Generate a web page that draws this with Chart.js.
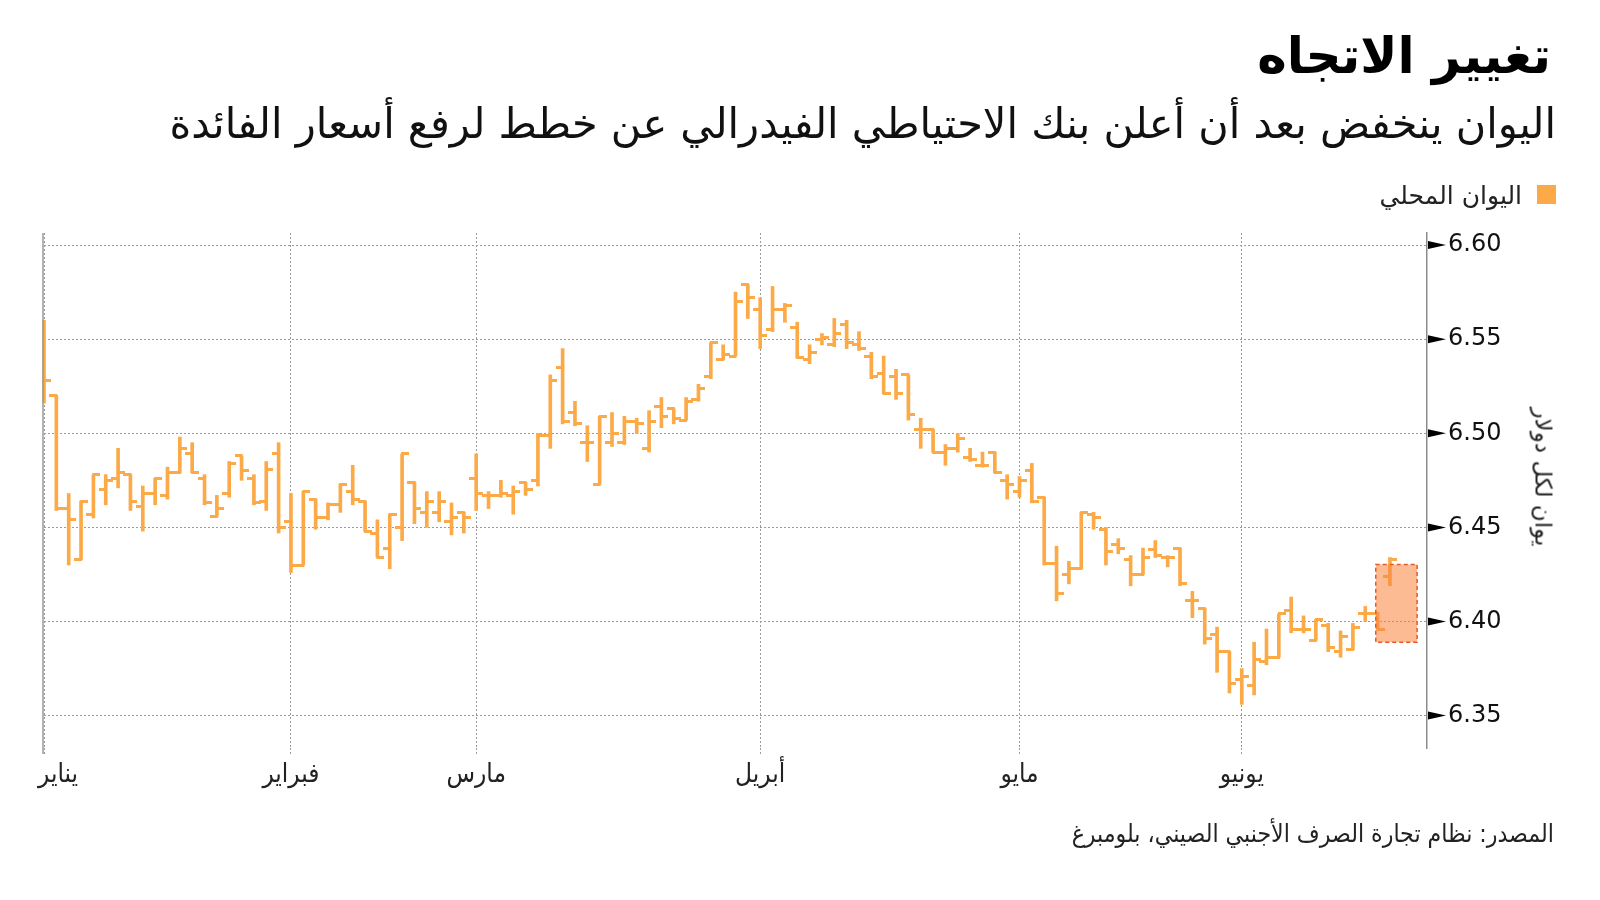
<!DOCTYPE html>
<html lang="ar">
<head>
<meta charset="utf-8">
<title>تغيير الاتجاه</title>
<script src="https://cdn.jsdelivr.net/npm/chart.js@4.4.1/dist/chart.umd.min.js"></script>
<style>
  body { margin: 0; background: #fff; }
  #wrap { position: relative; width: 1600px; height: 900px; overflow: hidden; font-family: "DejaVu Sans", sans-serif; color: #111; }
  #chart { position: absolute; left: 0; top: 0; }
  .txt { position: absolute; direction: rtl; white-space: nowrap; line-height: 1; }
  #title { right: 49px; top: 31px; font-size: 50px; font-weight: bold; color: #000; }
  #subtitle { right: 44px; top: 103px; font-size: 41.5px; color: #111; }
  #legend { right: 78px; top: 183px; font-size: 25px; color: #222; }
  #swatch { position: absolute; left: 1537px; top: 185px; width: 19px; height: 19px; background: #fbaa47; }
  #ytitle { left: 1543px; top: 477px; font-size: 23px; color: #222; transform: translate(-50%, -50%) rotate(90deg); }
  #source { right: 46px; top: 822px; font-size: 24.6px; color: #222; font-family: "DejaVu Sans Condensed", "DejaVu Sans", sans-serif; }
</style>
</head>
<body>
<div id="wrap">
  <canvas id="chart" width="1600" height="900"></canvas>
  <div id="title" class="txt">تغيير الاتجاه</div>
  <div id="subtitle" class="txt">اليوان ينخفض بعد أن أعلن بنك الاحتياطي الفيدرالي عن خطط لرفع أسعار الفائدة</div>
  <div id="swatch"></div>
  <div id="legend" class="txt">اليوان المحلي</div>
  <div id="ytitle" class="txt">يوان لكل دولار</div>
  <div id="source" class="txt">المصدر: نظام تجارة الصرف الأجنبي الصيني، بلومبرغ</div>
</div>
<script>
// Onshore yuan per dollar, daily OHLC, trading days Jan 4 - Jun 18
const opens = [
  6.535, 6.520, 6.460, 6.433, 6.457, 6.470, 6.476, 6.478, 6.461, 6.468,
  6.467, 6.479, 6.489, 6.476, 6.456, 6.468, 6.488, 6.476, 6.464, 6.489,
  6.453, 6.430, 6.465, 6.455, 6.462, 6.469, 6.464, 6.447, 6.439, 6.450,
  6.474, 6.458, 6.458, 6.453, 6.458, 6.476, 6.467, 6.467, 6.467, 6.474,
  6.475, 6.499, 6.535, 6.511, 6.495, 6.473, 6.495, 6.495, 6.506, 6.492,
  6.514, 6.513, 6.507, 6.518, 6.530, 6.539, 6.541, 6.579, 6.566, 6.555,
  6.566, 6.556, 6.539, 6.550, 6.547, 6.558, 6.547, 6.541, 6.532, 6.530,
  6.531, 6.502, 6.502, 6.490, 6.492, 6.487, 6.483, 6.490, 6.475, 6.469,
  6.480, 6.466, 6.431, 6.425, 6.428, 6.457, 6.449, 6.441, 6.433, 6.425,
  6.438, 6.434, 6.439, 6.411, 6.407, 6.393, 6.384, 6.369, 6.366, 6.379,
  6.381, 6.406, 6.396, 6.390, 6.398, 6.384, 6.385, 6.404, 6.404, 6.424
];
const highs = [
  6.560, 6.520, 6.468, 6.464, 6.478, 6.478, 6.492, 6.478, 6.472, 6.476,
  6.482, 6.498, 6.495, 6.478, 6.467, 6.485, 6.488, 6.478, 6.485, 6.495,
  6.468, 6.469, 6.465, 6.463, 6.473, 6.483, 6.464, 6.454, 6.457, 6.489,
  6.474, 6.469, 6.469, 6.463, 6.458, 6.489, 6.469, 6.475, 6.472, 6.474,
  6.500, 6.531, 6.545, 6.517, 6.504, 6.509, 6.511, 6.509, 6.508, 6.512,
  6.519, 6.513, 6.519, 6.526, 6.548, 6.547, 6.575, 6.579, 6.572, 6.578,
  6.569, 6.559, 6.547, 6.553, 6.561, 6.560, 6.554, 6.543, 6.541, 6.534,
  6.531, 6.508, 6.502, 6.494, 6.500, 6.492, 6.490, 6.490, 6.478, 6.477,
  6.484, 6.466, 6.440, 6.432, 6.458, 6.458, 6.450, 6.444, 6.435, 6.439,
  6.443, 6.435, 6.439, 6.416, 6.407, 6.397, 6.384, 6.375, 6.389, 6.396,
  6.404, 6.413, 6.403, 6.401, 6.399, 6.395, 6.399, 6.408, 6.405, 6.434
];
const lows = [
  6.516, 6.459, 6.430, 6.433, 6.455, 6.462, 6.471, 6.459, 6.448, 6.462,
  6.465, 6.479, 6.479, 6.462, 6.456, 6.466, 6.475, 6.462, 6.459, 6.447,
  6.426, 6.430, 6.449, 6.454, 6.458, 6.462, 6.448, 6.434, 6.428, 6.443,
  6.452, 6.450, 6.453, 6.446, 6.447, 6.459, 6.460, 6.466, 6.457, 6.467,
  6.472, 6.492, 6.505, 6.504, 6.485, 6.473, 6.493, 6.494, 6.500, 6.490,
  6.503, 6.505, 6.507, 6.517, 6.529, 6.539, 6.541, 6.561, 6.545, 6.554,
  6.559, 6.540, 6.537, 6.547, 6.546, 6.545, 6.544, 6.529, 6.521, 6.518,
  6.507, 6.492, 6.490, 6.483, 6.490, 6.485, 6.482, 6.479, 6.465, 6.466,
  6.463, 6.430, 6.411, 6.420, 6.428, 6.449, 6.430, 6.436, 6.419, 6.425,
  6.434, 6.429, 6.419, 6.402, 6.388, 6.373, 6.362, 6.356, 6.361, 6.377,
  6.381, 6.394, 6.394, 6.390, 6.384, 6.381, 6.385, 6.400, 6.396, 6.419
];
const closes = [
  6.528, 6.460, 6.454, 6.464, 6.478, 6.475, 6.479, 6.464, 6.468, 6.476,
  6.479, 6.492, 6.479, 6.463, 6.460, 6.484, 6.480, 6.463, 6.481, 6.450,
  6.430, 6.469, 6.455, 6.462, 6.473, 6.465, 6.448, 6.434, 6.457, 6.489,
  6.460, 6.464, 6.464, 6.455, 6.455, 6.468, 6.467, 6.468, 6.469, 6.470,
  6.499, 6.528, 6.506, 6.505, 6.495, 6.509, 6.500, 6.506, 6.505, 6.506,
  6.509, 6.508, 6.517, 6.524, 6.548, 6.542, 6.570, 6.572, 6.552, 6.566,
  6.568, 6.540, 6.543, 6.551, 6.553, 6.548, 6.545, 6.530, 6.521, 6.521,
  6.510, 6.502, 6.490, 6.492, 6.497, 6.486, 6.483, 6.479, 6.473, 6.475,
  6.464, 6.431, 6.415, 6.428, 6.458, 6.455, 6.437, 6.439, 6.425, 6.434,
  6.435, 6.434, 6.420, 6.411, 6.391, 6.384, 6.367, 6.371, 6.380, 6.381,
  6.404, 6.396, 6.396, 6.401, 6.386, 6.392, 6.397, 6.404, 6.396, 6.433
];

// month labels and the trading-day index where each month starts
const months = ['يناير', 'فبراير', 'مارس', 'أبريل', 'مايو', 'يونيو'];
const monthStart = [0, 20, 35, 58, 79, 97];
const yTicks = [6.35, 6.40, 6.45, 6.50, 6.55, 6.60];

// shaded area after the Fed decision (day index / yuan range)
const highlightFrom = 107.85;
const highlightTo = 111.2;
const highlightLow = 6.389;
const highlightHigh = 6.4303;

const barColor = '#fbaa47';

// open tick on the left, close tick on the right, used as point images
function tickImage(side) {
    const c = document.createElement('canvas');
    c.width = 14;
    c.height = 3;
    const g = c.getContext('2d');
    g.fillStyle = barColor;
    if (side === 'open') g.fillRect(0, 0, 8, 3);
    else g.fillRect(6, 0, 8, 3);
    return c;
}

const decorPlugin = {
    id: 'decor',
    afterDatasetsDraw(chart) {
        const {ctx, scales: {x, y}} = chart;
        const x0 = x.getPixelForValue(highlightFrom);
        const x1 = x.getPixelForValue(highlightTo);
        const y0 = y.getPixelForValue(highlightHigh);
        const y1 = y.getPixelForValue(highlightLow);
        ctx.save();
        ctx.fillStyle = 'rgba(251,131,60,0.55)';
        ctx.fillRect(x0, y0, x1 - x0, y1 - y0);
        ctx.setLineDash([4, 3]);
        ctx.strokeStyle = '#e55a25';
        ctx.lineWidth = 1.5;
        ctx.strokeRect(x0, y0, x1 - x0, y1 - y0);
        ctx.restore();
    },
    afterDraw(chart) {
        const {ctx, chartArea, scales: {x, y}} = chart;
        ctx.save();
        // left edge line
        ctx.strokeStyle = '#9a9a9a';
        ctx.lineWidth = 1.5;
        ctx.beginPath();
        ctx.moveTo(chartArea.left - 1, chartArea.top);
        ctx.lineTo(chartArea.left - 1, chartArea.bottom + 6);
        ctx.stroke();

        // arrow markers on the value axis
        ctx.fillStyle = '#000';
        yTicks.forEach(v => {
            const py = y.getPixelForValue(v);
            ctx.beginPath();
            ctx.moveTo(chartArea.right + 1, py - 4);
            ctx.lineTo(chartArea.right + 19, py);
            ctx.lineTo(chartArea.right + 1, py + 4);
            ctx.closePath();
            ctx.fill();
        });

        // month labels
        ctx.fillStyle = '#222';
        ctx.font = '26px "DejaVu Sans Condensed", "DejaVu Sans", sans-serif';
        ctx.textBaseline = 'middle';
        months.forEach((m, i) => {
            const px = x.getPixelForValue(monthStart[i]);
            if (i === 0) {
                ctx.textAlign = 'left';
                ctx.fillText(m, px - 6, 775);
            } else {
                ctx.textAlign = 'center';
                ctx.fillText(m, px, 775);
            }
        });
        ctx.restore();
    }
};

const rangeData = highs.map((h, i) => ({x: i, y: [lows[i], h]}));
const openData = opens.map((v, i) => ({x: i, y: v}));
const closeData = closes.map((v, i) => ({x: i, y: v}));

new Chart(document.getElementById('chart'), {
    type: 'bar',
    data: {
        datasets: [
            {
                label: 'اليوان المحلي',
                data: rangeData,
                backgroundColor: barColor,
                borderWidth: 0,
                barThickness: 3,
                clip: false
            },
            {
                type: 'scatter',
                data: openData,
                pointStyle: tickImage('open'),
                pointRadius: 4,
                showLine: false
            },
            {
                type: 'scatter',
                data: closeData,
                pointStyle: tickImage('close'),
                pointRadius: 4,
                showLine: false,
                clip: false
            }
        ]
    },
    options: {
        responsive: false,
        animation: false,
        devicePixelRatio: 1,
        layout: {padding: {left: 44, top: 233, right: 0, bottom: 0}},
        plugins: {
            legend: {display: false},
            tooltip: {enabled: false}
        },
        scales: {
            x: {
                type: 'linear',
                min: 0,
                max: 112,
                offset: false,
                afterBuildTicks: s => { s.ticks = monthStart.map(v => ({value: v})); },
                afterFit: s => { s.height = 152; },
                ticks: {display: false},
                grid: {offset: false, color: '#9a9a9a', lineWidth: 1, tickLength: 6, tickColor: '#9a9a9a', tickBorderDash: [2, 2]},
                border: {display: false, dash: [2, 2]}
            },
            y: {
                position: 'right',
                min: 6.3328,
                max: 6.6064,
                afterBuildTicks: s => { s.ticks = yTicks.map(v => ({value: v})); },
                afterFit: s => { s.width = 173; },
                ticks: {
                    callback: v => v.toFixed(2),
                    color: '#111',
                    font: {family: 'DejaVu Sans', size: 24},
                    padding: 8
                },
                grid: {color: '#9a9a9a', lineWidth: 1, tickLength: 13, tickColor: 'rgba(0,0,0,0)'},
                border: {display: true, color: '#8c8c8c', width: 1.5, dash: [2, 2]}
            }
        }
    },
    plugins: [decorPlugin]
});
</script>
</body>
</html>
